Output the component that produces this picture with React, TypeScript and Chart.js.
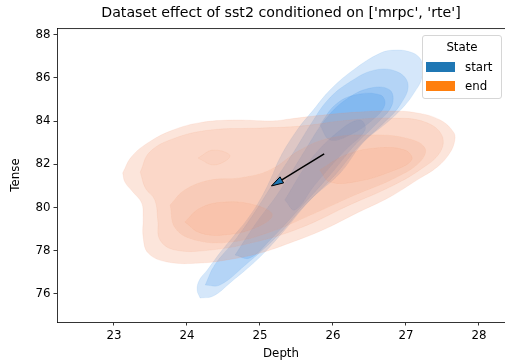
import React, { useEffect, useRef } from 'react';
import { Chart, registerables } from 'chart.js';

Chart.register(...registerables);

const TITLE = "Dataset effect of sst2 conditioned on ['mrpc', 'rte']";
const X_LABEL = 'Depth';
const Y_LABEL = 'Tense';
const X_TICKS = [23, 24, 25, 26, 27, 28];
const Y_TICKS = [76, 78, 80, 82, 84, 86, 88];
const X_MIN = 22.22;
const X_MAX = 28.357;
const Y_MIN = 74.7;
const Y_MAX = 88.31;
const LEGEND_TITLE = 'State';
const STATES = ['start', 'end'];
const STATE_COLORS = ['#1f77b4', '#ff7f0e'];

// "start" density contour levels, outer -> inner, [Depth, Tense]
const START_L1 = [
  [24.18, 75.81], [24.14, 76.18], [24.17, 76.64], [24.28, 77.11], [24.45, 77.89], [24.63, 78.64],
  [24.82, 79.42], [25.0, 80.35], [25.14, 81.27], [25.28, 82.34], [25.51, 83.59], [25.73, 84.51],
  [25.96, 85.44], [26.28, 86.37], [26.65, 87.15], [26.85, 87.29], [27.06, 87.2], [27.19, 86.92],
  [27.23, 86.46], [27.21, 85.9], [27.11, 85.3], [26.99, 84.75], [26.78, 84.05], [26.41, 82.99],
  [26.1, 81.6], [25.69, 80.35], [25.34, 78.96], [25.0, 77.71], [24.59, 76.51], [24.36, 75.9],
];
const START_L2 = [
  [24.25, 76.41], [24.38, 77.34], [24.66, 78.5], [24.93, 79.79], [25.21, 81.27], [25.48, 82.66],
  [25.69, 83.82], [25.93, 84.98], [26.23, 85.81], [26.58, 86.37], [26.89, 86.27], [27.03, 85.67],
  [26.92, 84.75], [26.71, 83.96], [26.37, 82.89], [26.03, 81.51], [25.62, 80.12], [25.21, 78.59],
  [24.8, 77.34], [24.45, 76.41],
];
const START_L3 = [
  [24.66, 77.8], [24.93, 79.19], [25.28, 80.81], [25.62, 82.66], [25.89, 84.05], [26.17, 84.98],
  [26.51, 85.53], [26.78, 85.44], [26.81, 84.75], [26.62, 83.96], [26.3, 82.89], [25.96, 81.51],
  [25.55, 79.98], [25.14, 78.5], [24.86, 77.66],
];
const START_L4 = [
  [25.82, 83.82], [26.03, 84.75], [26.3, 85.21], [26.65, 85.21], [26.71, 84.75], [26.54, 84.05],
  [26.23, 83.36], [25.96, 83.13],
];
const START_L5 = [
  [25.34, 80.35], [25.69, 82.2], [26.1, 83.59], [26.37, 84.05], [26.44, 83.59], [26.17, 82.66],
  [25.75, 81.04], [25.48, 79.89],
];

// "end" density contour levels, outer -> inner, [Depth, Tense]
const END_L1 = [
  [23.12, 81.6], [23.24, 82.35], [23.49, 83.05], [23.81, 83.59], [24.18, 83.93], [24.63, 84.05],
  [25.18, 84.01], [25.41, 84.1], [25.86, 84.28], [26.33, 84.42], [26.78, 84.47], [27.15, 84.38],
  [27.47, 84.05], [27.65, 83.5], [27.67, 83.13], [27.6, 82.52], [27.43, 81.88], [27.15, 81.27],
  [26.78, 80.49], [26.33, 79.75], [25.86, 78.96], [25.41, 78.36], [25.0, 77.89], [24.63, 77.62],
  [24.18, 77.43], [23.73, 77.48], [23.47, 77.89], [23.4, 78.64], [23.4, 79.56], [23.38, 80.21],
  [23.26, 80.72], [23.15, 81.18],
];
const END_L2 = [
  [23.36, 81.64], [23.49, 82.57], [23.84, 83.22], [24.32, 83.59], [25.0, 83.68], [25.55, 83.77],
  [26.23, 84.05], [26.85, 84.14], [27.26, 83.96], [27.49, 83.36], [27.47, 82.57], [27.19, 81.74],
  [26.78, 80.95], [26.23, 80.12], [25.55, 79.05], [24.93, 78.4], [24.32, 78.03], [23.84, 78.03],
  [23.63, 78.5], [23.6, 79.42], [23.56, 80.35], [23.43, 80.9],
];
const END_L3 = [
  [23.77, 80.12], [23.97, 80.81], [24.32, 81.27], [24.73, 81.37], [25.14, 81.74], [25.55, 82.66],
  [25.96, 83.22], [26.51, 83.36], [26.99, 83.22], [27.26, 82.76], [27.19, 82.11], [26.85, 81.37],
  [26.3, 80.58], [25.69, 79.65], [25.14, 78.87], [24.59, 78.4], [24.11, 78.5], [23.84, 79.05],
];
const END_L3B = [[24.15, 82.29], [24.36, 82.66], [24.59, 82.39], [24.38, 81.97]];
const END_L4A = [
  [23.97, 79.33], [24.18, 79.98], [24.52, 80.26], [24.93, 80.12], [25.17, 79.65], [24.93, 79.05],
  [24.52, 78.73], [24.18, 78.82],
];
const END_L4B = [
  [25.82, 81.74], [26.17, 82.43], [26.58, 82.76], [26.99, 82.66], [27.08, 82.2], [26.78, 81.64],
  [26.3, 81.18], [25.96, 81.18],
];

// arrow from start mean to end mean
const ARROW_SHAFT = [[25.88, 82.48], [25.3, 81.28]];
const ARROW_HEAD = [[25.158, 81.0], [25.324, 81.14], [25.275, 81.42]];

const FONT = 'DejaVu Sans';

const closed = (arr: number[][]) => [...arr, arr[0]].map(([x, y]) => ({ x, y }));

const level = (arr: number[][], fill: string, line: string, order: number) => ({
  data: closed(arr),
  showLine: true,
  fill: 'shape',
  backgroundColor: fill,
  borderColor: line,
  borderWidth: 0.6,
  pointRadius: 0,
  tension: 0.4,
  order,
});

const framePlugin = {
  id: 'topFrame',
  afterDraw(chart: any) {
    const { ctx, chartArea } = chart;
    ctx.save();
    ctx.strokeStyle = '#000';
    ctx.lineWidth = 0.8;
    ctx.beginPath();
    ctx.moveTo(chartArea.left, chartArea.top + 0.5);
    ctx.lineTo(chartArea.right + 5, chartArea.top + 0.5);
    ctx.stroke();
    ctx.restore();
  },
};

export default function App() {
  const ref = useRef<HTMLCanvasElement>(null);

  useEffect(() => {
    if (!ref.current) return;
    const b = (a: number) => `rgba(45,135,228,${a})`;
    const o = (a: number) => `rgba(240,132,85,${a})`;
    const datasets: any[] = [
      level(START_L1, b(0.2), b(0.16), 20),
      level(START_L2, b(0.2), b(0.16), 21),
      level(START_L3, b(0.2), b(0.16), 22),
      level(START_L4, b(0.2), b(0.16), 24),
      level(START_L5, b(0.2), b(0.16), 25),
      level(END_L1, o(0.21), o(0.16), 10),
      level(END_L2, o(0.15), o(0.14), 11),
      level(END_L3, o(0.13), o(0.13), 12),
      level(END_L3B, o(0.07), o(0.13), 13),
      level(END_L4A, o(0.13), o(0.13), 14),
      level(END_L4B, o(0.13), o(0.13), 15),
      {
        data: ARROW_SHAFT.map(([x, y]) => ({ x, y })),
        showLine: true,
        fill: false,
        borderColor: '#000',
        borderWidth: 1.5,
        pointRadius: 0,
        order: 1,
      },
      {
        data: closed(ARROW_HEAD),
        showLine: true,
        fill: 'shape',
        backgroundColor: STATE_COLORS[0],
        borderColor: '#000',
        borderWidth: 1,
        pointRadius: 0,
        tension: 0,
        order: 0,
      },
    ];

    const chart = new Chart(ref.current, {
      type: 'scatter',
      data: { datasets },
      options: {
        responsive: false,
        animation: false,
        events: [],
        layout: { padding: 0 },
        plugins: {
          legend: { display: false },
          tooltip: { enabled: false },
          title: {
            display: true,
            text: TITLE,
            fullSize: false,
            color: '#000',
            font: { family: FONT, size: 14.2, weight: 'normal' },
            padding: { top: 5, bottom: 6 },
          },
        },
        scales: {
          x: {
            type: 'linear',
            min: X_MIN,
            max: X_MAX,
            afterBuildTicks: (s: any) => {
              s.ticks = X_TICKS.map((v) => ({ value: v }));
            },
            afterFit: (s: any) => {
              s.height = 39;
            },
            grid: { display: true, drawOnChartArea: false, drawTicks: true, tickLength: 3.5, color: '#000', lineWidth: 0.8 },
            border: { display: true, color: '#000', width: 0.8 },
            ticks: { color: '#000', font: { family: FONT, size: 11.8 }, padding: 3, maxRotation: 0 },
            title: { display: true, text: X_LABEL, color: '#000', font: { family: FONT, size: 11.8 }, padding: { top: 0, bottom: 0 } },
          },
          y: {
            type: 'linear',
            min: Y_MIN,
            max: Y_MAX,
            afterBuildTicks: (s: any) => {
              s.ticks = Y_TICKS.map((v) => ({ value: v }));
            },
            afterFit: (s: any) => {
              s.width = 57;
            },
            grid: { display: true, drawOnChartArea: false, drawTicks: true, tickLength: 3.5, color: '#000', lineWidth: 0.8 },
            border: { display: true, color: '#000', width: 0.8 },
            ticks: { color: '#000', font: { family: FONT, size: 11.8 }, padding: 3 },
            title: { display: true, text: Y_LABEL, color: '#000', font: { family: FONT, size: 11.8 }, padding: { top: 9, bottom: 0 } },
          },
        },
      } as any,
      plugins: [framePlugin],
    });
    return () => chart.destroy();
  }, []);

  const legendFont: React.CSSProperties = { fontFamily: FONT, fontSize: 11.8, color: '#000', lineHeight: '14px' };

  return (
    <div style={{ position: 'fixed', left: 0, top: 0, width: 505, height: 361, background: '#fff', overflow: 'hidden' }}>
      <canvas ref={ref} width={505} height={361} style={{ display: 'block' }} />
      <div
        style={{
          position: 'absolute',
          left: 422,
          top: 35,
          width: 80,
          height: 64,
          boxSizing: 'border-box',
          border: '1px solid #d6d6d6',
          borderRadius: 3,
          background: 'rgba(255,255,255,0.8)',
          ...legendFont,
        }}
      >
        <div style={{ position: 'absolute', top: 3.5, left: 0, width: '100%', textAlign: 'center' }}>{LEGEND_TITLE}</div>
        {STATES.map((s, i) => (
          <React.Fragment key={s}>
            <div
              style={{ position: 'absolute', left: 3, top: 25.5 + i * 19.5, width: 29, height: 10, background: STATE_COLORS[i] }}
            />
            <div style={{ position: 'absolute', left: 42, top: 23.5 + i * 19.5 }}>{s}</div>
          </React.Fragment>
        ))}
      </div>
    </div>
  );
}
